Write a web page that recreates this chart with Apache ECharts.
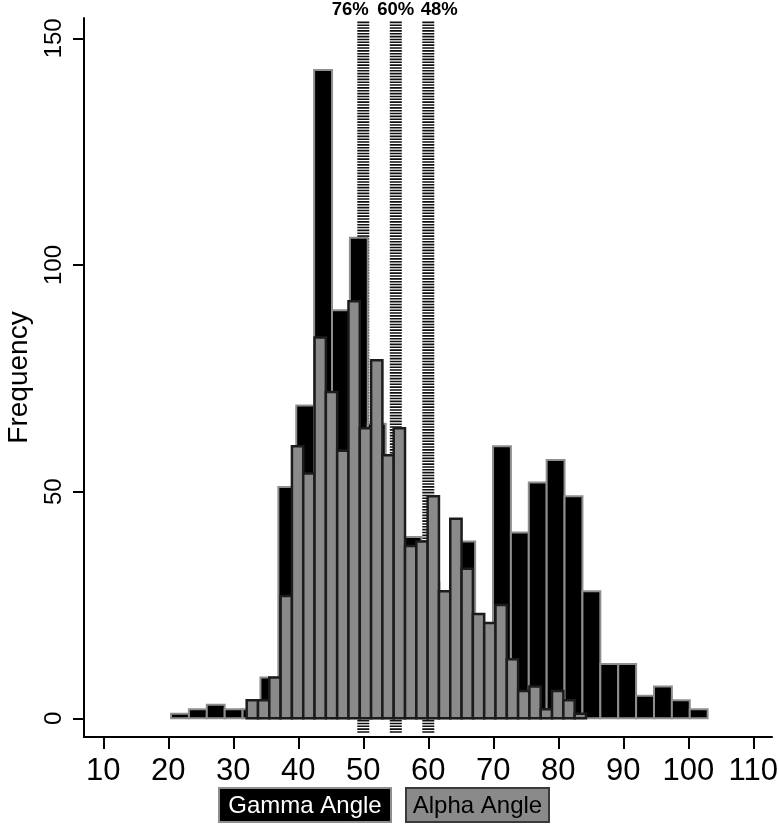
<!DOCTYPE html>
<html><head><meta charset="utf-8">
<script src="https://cdn.jsdelivr.net/npm/echarts@6/dist/echarts.min.js"></script>
<style>html,body{margin:0;padding:0;background:#fff}#chart{width:779px;height:827px}</style>
</head><body><div id="chart"></div>
<script>
// ---- data ----
const seriesNames = ['Gamma Angle', 'Alpha Angle'];
const gammaStart = 20.42;
const gammaBinWidth = 2.752;
const gammaCounts = [1,2,3,2,2,9,51,69,143,90,106,65,50,40,30,22,39,16,60,41,52,57,49,28,12,12,5,7,4,2];
const alphaStart = 32.06;
const alphaBinWidth = 1.74;
const alphaCounts = [4,4,9,27,60,54,84,72,59,92,64,79,58,64,38,39,49,28,44,33,23,21,25,13,6,7,2,6,4,1];
const cutoffs = [50, 55, 60];
const cutoffLabels = ['76%', '60%', '48%'];
const xTicks = [10,20,30,40,50,60,70,80,90,100,110];
const yTicks = [0,50,100,150];

// ---- styling / layout ----
const labelOffsets = [-13, 0, 11];
const lineTopVal = 153.7, lineBottomVal = -3.3;

function toBins(start, width, counts) {
  return counts.map((c, i) => [start + i * width, start + (i + 1) * width, c]);
}
function barRenderer(fill, stroke, lw) {
  return function (params, api) {
    const p0 = api.coord([api.value(0), 0]);
    const p1 = api.coord([api.value(1), api.value(2)]);
    return {
      type: 'rect',
      shape: { x: p0[0], y: p1[1], width: p1[0] - p0[0], height: p0[1] - p1[1] },
      style: { fill: fill, stroke: stroke, lineWidth: lw }
    };
  };
}

const chart = echarts.init(document.getElementById('chart'), null, { renderer: 'canvas' });
chart.setOption({
  animation: false,
  backgroundColor: '#fff',
  grid: { left: 84, top: 18, width: 688, height: 719, containLabel: false, outerBoundsMode: 'none' },
  xAxis: {
    type: 'value', min: 7.03, max: 112.88,
    axisLine: { show: true, onZero: false, lineStyle: { color: '#000', width: 2 } },
    axisTick: { show: true, customValues: xTicks, length: 12, lineStyle: { color: '#000', width: 2 } },
    axisLabel: { customValues: xTicks, color: '#000', fontSize: 31, fontFamily: 'Liberation Sans Narrow, Liberation Sans, sans-serif', margin: 19 },
    splitLine: { show: false }
  },
  yAxis: {
    type: 'value', min: -4.125, max: 154.48,
    name: 'Frequency', nameLocation: 'middle', nameRotate: 90, nameGap: 51,
    nameTextStyle: { color: '#000', fontSize: 28, fontFamily: 'Liberation Sans, sans-serif' },
    axisLine: { show: true, onZero: false, lineStyle: { color: '#000', width: 2 } },
    axisTick: { show: true, customValues: yTicks, length: 11, lineStyle: { color: '#000', width: 2 } },
    axisLabel: { customValues: yTicks, rotate: 90, color: '#000', fontSize: 24, fontFamily: 'Liberation Sans Narrow, Liberation Sans, sans-serif', margin: 18 },
    splitLine: { show: false }
  },
  series: [
    {
      type: 'custom', name: 'cutoffs', clip: false,
      data: cutoffs.map((v, i) => [v, i]),
      renderItem: function (params, api) {
        const v = api.value(0), i = api.value(1);
        const top = api.coord([v, lineTopVal]);
        const bot = api.coord([v, lineBottomVal]);
        return {
          type: 'group',
          children: [
            { type: 'line', shape: { x1: top[0], y1: top[1], x2: bot[0], y2: bot[1] },
              style: { stroke: '#111', lineWidth: 12, lineDash: [1.6, 1.25] } },
            { type: 'text', x: top[0] + labelOffsets[i], y: 10,
              style: { text: cutoffLabels[i], fill: '#000', fontSize: 18.5, fontWeight: 'bold',
                       fontFamily: 'Liberation Sans, sans-serif', align: 'center', verticalAlign: 'middle' } }
          ]
        };
      }
    },
    {
      type: 'custom', name: seriesNames[0], clip: false,
      data: toBins(gammaStart, gammaBinWidth, gammaCounts),
      renderItem: barRenderer('#000', '#8e8e8e', 2)
    },
    {
      type: 'custom', name: seriesNames[1], clip: false,
      data: toBins(alphaStart, alphaBinWidth, alphaCounts),
      renderItem: barRenderer('#8a8a8a', '#1c1c1c', 2.5)
    }
  ],
  graphic: [
    { type: 'group', left: 218, top: 787, children: [
      { type: 'rect', shape: { x: 0, y: 0, width: 172, height: 34 }, style: { fill: '#000', stroke: '#8e8e8e', lineWidth: 2 } },
      { type: 'text', x: 86, y: 18, style: { text: seriesNames[0], fill: '#fff', fontSize: 24, fontFamily: 'Liberation Sans, sans-serif', align: 'center', verticalAlign: 'middle' } }
    ]},
    { type: 'group', left: 405, top: 787, children: [
      { type: 'rect', shape: { x: 0, y: 0, width: 143, height: 34 }, style: { fill: '#8a8a8a', stroke: '#3a3a3a', lineWidth: 2 } },
      { type: 'text', x: 71.5, y: 18, style: { text: seriesNames[1], fill: '#000', fontSize: 24, fontFamily: 'Liberation Sans, sans-serif', align: 'center', verticalAlign: 'middle' } }
    ]}
  ]
});
</script>
</body></html>
